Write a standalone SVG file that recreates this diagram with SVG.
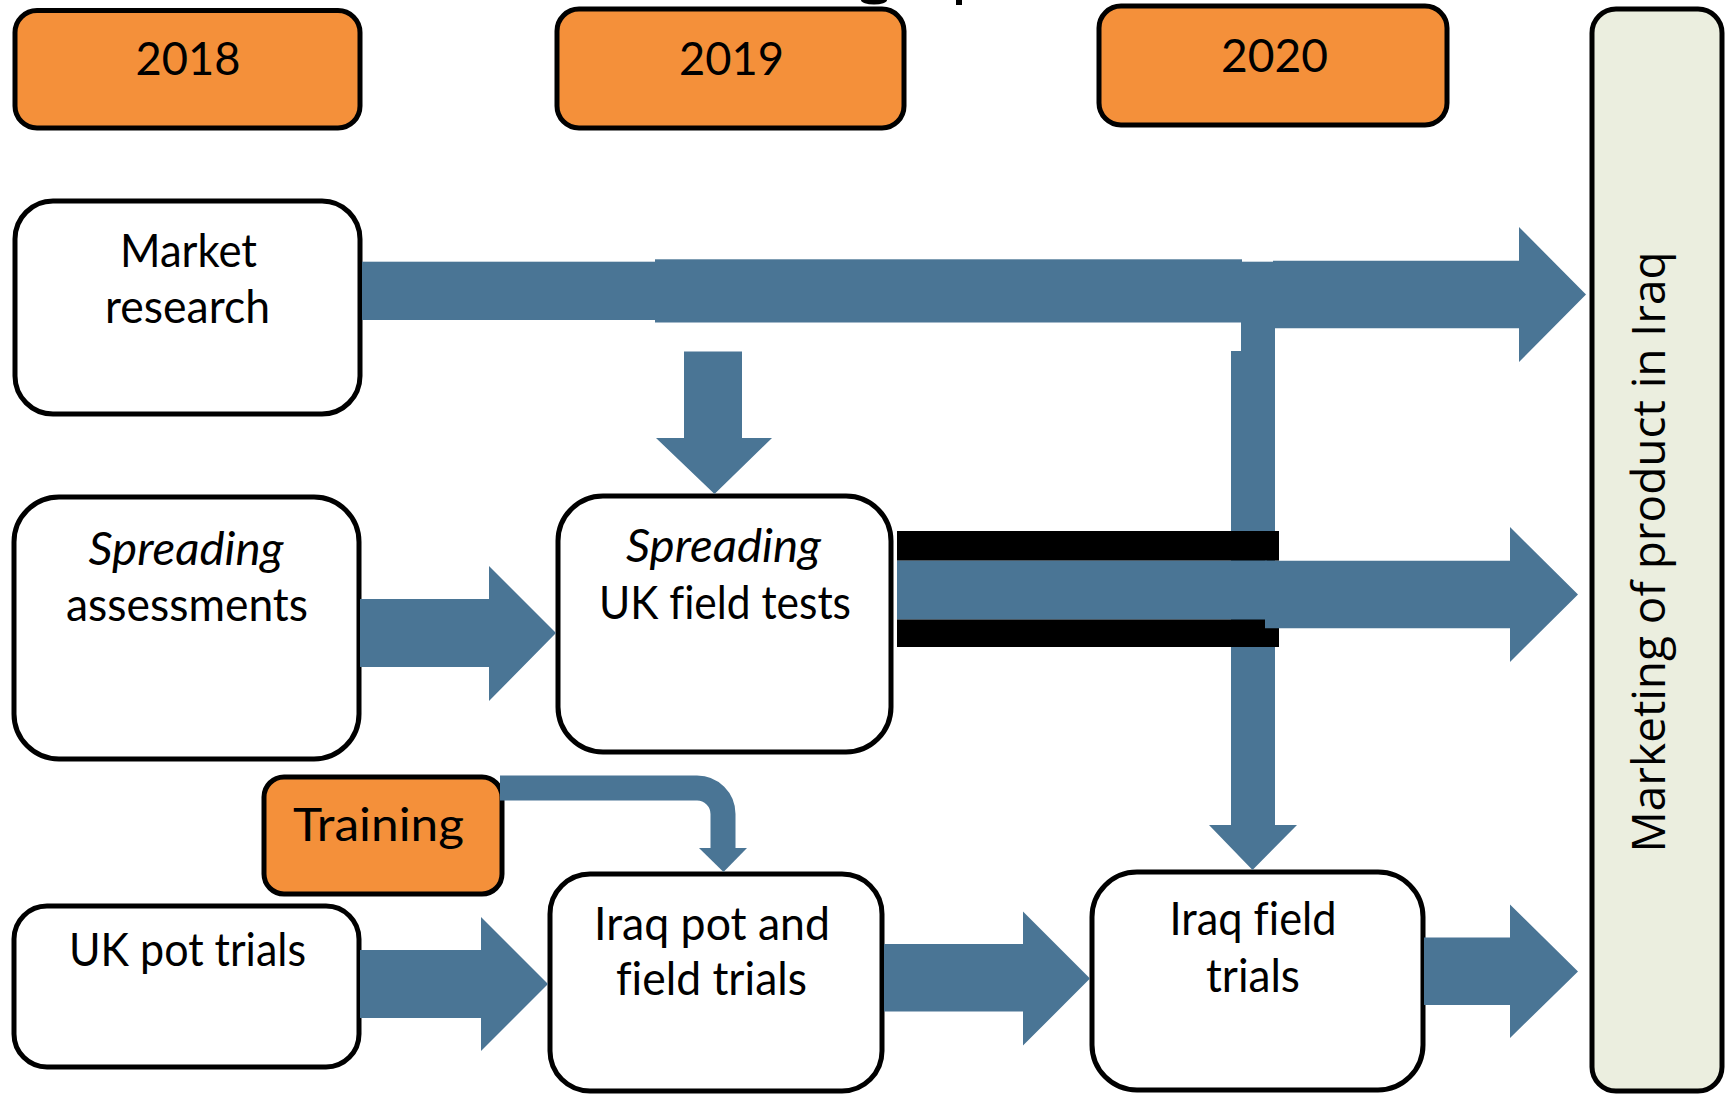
<svg xmlns="http://www.w3.org/2000/svg" width="1729" height="1095" viewBox="0 0 1729 1095">
<style>
.box{fill:#ffffff;stroke:#000;stroke-width:5}
.year{fill:#F4903A;stroke:#000;stroke-width:5}
.mkt{fill:#EBEEDF;stroke:#000;stroke-width:5}
.t{font-family:Lato,"Liberation Sans",sans-serif;font-size:46px;fill:#000;text-anchor:middle;font-variant-ligatures:none}
.it{font-style:italic}
.blue{fill:#4A7595}
.bar{fill:#000}
.mt{font-family:"Open Sans","DejaVu Sans",sans-serif;font-size:45px;fill:#000;text-anchor:middle}
</style>
<rect width="1729" height="1095" fill="#fff"/>
<ellipse cx="874" cy="0" rx="13" ry="4.5" fill="#000"/>
<rect x="956" y="0" width="6" height="5" fill="#000"/>

<g id="y2018"><rect class="year" x="15" y="10.5" width="345" height="117.5" rx="22"/><text class="t" x="188" y="75" textLength="105" lengthAdjust="spacingAndGlyphs">2018</text></g>
<g id="y2019"><rect class="year" x="557" y="9" width="347" height="119" rx="22"/><text class="t" x="731.5" y="75" textLength="105" lengthAdjust="spacingAndGlyphs">2019</text></g>
<g id="y2020"><rect class="year" x="1099" y="6" width="348" height="119" rx="22"/><text class="t" x="1274.5" y="72" textLength="107" lengthAdjust="spacingAndGlyphs">2020</text></g>

<g id="marketing"><rect class="mkt" x="1592" y="9" width="130" height="1082" rx="24"/><text class="mt" transform="translate(1665,552) rotate(-90)" textLength="601" lengthAdjust="spacingAndGlyphs">Marketing of product in Iraq</text></g>

<g id="market-research"><rect class="box" x="15" y="201" width="345" height="213" rx="38"/><text class="t" x="188.5" y="267" textLength="137" lengthAdjust="spacingAndGlyphs">Market</text><text class="t" x="187.5" y="323" textLength="165" lengthAdjust="spacingAndGlyphs">research</text></g>

<g id="spreading-assessments"><rect class="box" x="14" y="497" width="345" height="262" rx="45"/><text class="t it" x="186" y="565" textLength="195" lengthAdjust="spacingAndGlyphs">Spreading</text><text class="t" x="187" y="621" textLength="242" lengthAdjust="spacingAndGlyphs">assessments</text></g>

<g id="spreading-uk"><rect class="box" x="558" y="496" width="333" height="256" rx="45"/><text class="t it" x="723.5" y="562" textLength="195" lengthAdjust="spacingAndGlyphs">Spreading</text><text class="t" x="725" y="619" textLength="252" lengthAdjust="spacingAndGlyphs">UK field tests</text></g>

<g id="training"><rect class="year" x="264" y="777" width="238" height="117" rx="20"/><text class="t" x="378.5" y="841" textLength="171" lengthAdjust="spacingAndGlyphs">Training</text></g>

<g id="uk-pot"><rect class="box" x="14" y="906" width="345" height="161" rx="33"/><text class="t" x="187.5" y="966" textLength="237" lengthAdjust="spacingAndGlyphs">UK pot trials</text></g>

<g id="iraq-pot"><rect class="box" x="550" y="874" width="332" height="217" rx="40"/><text class="t" x="712" y="939.5" textLength="236" lengthAdjust="spacingAndGlyphs">Iraq pot and</text><text class="t" x="711.5" y="995" textLength="191" lengthAdjust="spacingAndGlyphs">field trials</text></g>

<g id="iraq-field"><rect class="box" x="1092" y="872" width="331" height="218" rx="45"/><text class="t" x="1253" y="934.6" textLength="167" lengthAdjust="spacingAndGlyphs">Iraq field</text><text class="t" x="1253" y="992" textLength="94" lengthAdjust="spacingAndGlyphs">trials</text></g>

<g id="connectors">
  <rect class="blue" x="1241" y="261.7" width="34" height="90"/>
  <polygon class="blue" points="1231,351 1275,351 1275,825 1297,825 1252.5,870 1209,825 1231,825"/>
  <rect class="blue" x="362" y="261.7" width="294" height="58.3"/>
  <rect class="blue" x="655" y="259.3" width="587" height="63.2"/>
  <polygon class="blue" points="1273,260.7 1519,260.7 1519,227 1586,294.5 1519,362 1519,328.3 1273,328.3"/>
  <polygon class="blue" points="684,351.5 742,351.5 742,438 772,438 714.5,494 656,438 684,438"/>
  <polygon class="blue" points="360,599 489,599 489,566 556,633 489,701 489,667 360,667"/>
  <rect class="bar" x="897" y="531" width="382" height="29.7"/>
  <rect class="bar" x="897" y="619.3" width="382" height="27.7"/>
  <rect class="blue" x="897" y="560.7" width="370" height="58.6"/>
  <polygon class="blue" points="1265,560.7 1510,560.7 1510,527 1578,594.5 1510,662 1510,628.3 1265,628.3"/>
  <path d="M500,788 H697 A26,26 0 0 1 723,814 V849.5" fill="none" stroke="#4A7595" stroke-width="25"/>
  <polygon class="blue" points="699,848 747,848 723.5,872"/>
  <polygon class="blue" points="360,950 481,950 481,917 548,984 481,1051 481,1018 360,1018"/>
  <polygon class="blue" points="884,944 1023,944 1023,911.5 1090,978.5 1023,1045.6 1023,1011.5 884,1011.5"/>
  <polygon class="blue" points="1424,937.5 1510,937.5 1510,904.5 1578,971.5 1510,1038 1510,1005 1424,1005"/>
</g>
</svg>
